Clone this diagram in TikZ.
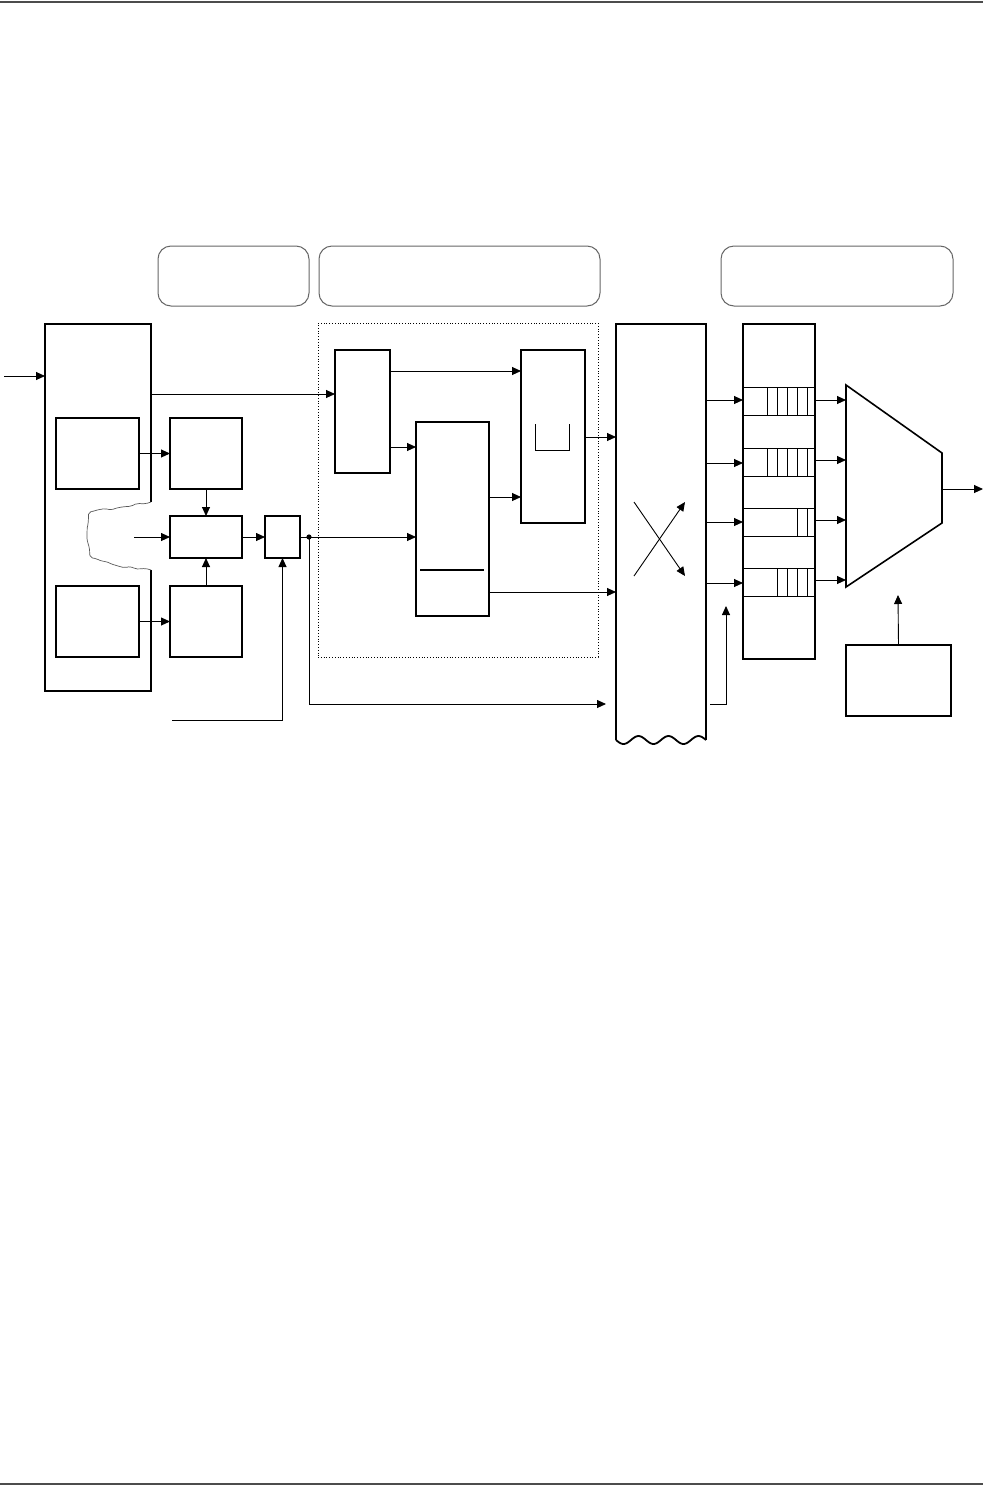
\documentclass[tikz,border=0pt]{standalone}
\usepackage{tikz}
\usepackage{xcolor}
\usetikzlibrary{arrows.meta,decorations.pathmorphing}

\tikzset{
  blk/.style={draw, line width=1.8pt, inner sep=0pt, outer sep=0pt},
  ghost/.style={inner sep=0pt, outer sep=0pt},
  tag/.style={draw=gray!80!black, line width=1pt, rounded corners=13pt, inner sep=0pt, outer sep=0pt},
  arr/.style={line width=0.9pt, -{Triangle[length=9pt,width=8pt]}},
  wire/.style={line width=0.9pt},
  slot/.style={line width=0.7pt}
}

\begin{document}
\begin{tikzpicture}[x=1pt,y=-1pt]

\useasboundingbox (0,0) rectangle (983,1486);

% Page rules
\draw[gray!60!black, line width=1.6pt] (0,2) -- (983,2);
\draw[gray!60!black, line width=1.6pt] (0,1484) -- (983,1484);

% Headers
\node[tag, minimum width=151pt, minimum height=60pt] (T1) at (233.5,276) {};
\node[tag, minimum width=281pt, minimum height=60pt] (T2) at (459.5,276) {};
\node[tag, minimum width=232pt, minimum height=60pt] (T3) at (837,276) {};

% Left frame with torn side
\node[ghost, minimum width=106pt, minimum height=367pt] (L) at (98,507.5) {};
\draw[line width=1.8pt] (151,502) -- (L.north east) -- (L.north west) -- (L.south west) -- (L.south east) -- (151,570);
\draw[gray!70!black, line width=0.7pt, rounded corners=2pt, decorate, decoration={random steps, segment length=5pt, amplitude=1.4pt}]
  (151,502) -- (122,507) -- (90,512) -- (87,535) -- (90,556) -- (118,566) -- (151,570);

% Left blocks
\node[blk, minimum width=83pt, minimum height=71pt] (A1) at (97.5,453.5) {};
\node[blk, minimum width=72pt, minimum height=71pt] (B1) at (206,453.5) {};
\node[blk, minimum width=72pt, minimum height=42pt] (C) at (206,537) {};
\node[blk, minimum width=83pt, minimum height=71pt] (A2) at (97.5,621.5) {};
\node[blk, minimum width=72pt, minimum height=71pt] (B2) at (206,621.5) {};
\node[blk, minimum width=35pt, minimum height=42pt] (D) at (282.5,537) {};

% Dotted group
\node[draw, dotted, line width=0.8pt, inner sep=0pt, minimum width=280pt, minimum height=334pt] (G) at (458,490) {};
\node[blk, minimum width=55pt, minimum height=123pt] (E1) at (362.5,411.5) {};
\node[blk, minimum width=73pt, minimum height=194pt] (E2) at (452.5,519) {};
\node[blk, minimum width=64pt, minimum height=173pt] (F) at (553,436.5) {};
\draw[line width=1.8pt] (420,570) -- (484,570);
\draw[line width=0.8pt] (535,424) -- (535,450) -- (569,450) -- (569,424);

% Switch with wavy bottom
\node[ghost, minimum width=90pt, minimum height=416pt] (X) at (661,532) {};
\draw[line width=1.8pt] (616,740) -- (X.north west) -- (X.north east) -- (706,740);
\draw[line width=1.8pt] plot[domain=0:90, samples=61] ({616+\x},{740+4*sin(12*\x)});
\coordinate (x1) at (634,502);
\coordinate (x2) at (685,576);
\coordinate (x3) at (634,576);
\coordinate (x4) at (685,502);
\draw[arr] (x1) -- (x2);
\draw[arr] (x3) -- (x4);

% Queues
\node[draw, line width=1.4pt, inner sep=0pt, outer sep=0pt, minimum width=72pt, minimum height=335pt] (Q) at (779,491.5) {};
\foreach \y/\xs in {387/{767,777,787,797,807}, 448/{767,777,787,797,807}, 508/{797,807}, 568/{777,787,797,807}}{
  \draw[slot] (743,\y) rectangle (815,\y+28);
  \foreach \x in \xs {
    \draw[slot] (\x,\y) -- (\x,\y+28);
  }
}

% Mux
\coordinate (M1) at (846,385);
\coordinate (M2) at (942,453);
\coordinate (M3) at (942,523);
\coordinate (M4) at (846,587);
\coordinate (Mo) at (942,489);
\draw[line width=1.6pt] (M1) -- (M2) -- (M3) -- (M4) -- cycle;

% Control
\node[blk, minimum width=105pt, minimum height=71pt] (K) at (898.5,680.5) {};

% Free ends
\coordinate (in0) at (4,376);
\coordinate (in1) at (134,537);
\coordinate (in2) at (172,720);
\coordinate (dot) at (309,537);
\coordinate (byp) at (606,704);
\coordinate (xo) at (710,704);
\coordinate (qin) at (726,606);
\coordinate (out) at (983,489);
\coordinate (sel) at (898,595);

% Connectors
\draw[arr] (in0) -- (L.west |- in0);
\draw[arr] (L.east |- 0,394) -- (E1.west |- 0,394);
\draw[arr] (A1) -- (B1);
\draw[arr] (A2) -- (B2);
\draw[arr] (B1) -- (C);
\draw[arr] (B2) -- (C);
\draw[arr] (in1) -- (C.west);
\draw[arr] (C) -- (D);
\draw[arr] (in2) -| (D.south);
\draw[wire] (D.east) -- (dot);
\fill (dot) circle (2.6pt);
\draw[arr] (dot) -- (E2.west |- dot);
\draw[arr] (dot) |- (byp);
\draw[arr] (E1.east |- 0,371) -- (F.west |- 0,371);
\draw[arr] (E1.east |- 0,447) -- (E2.west |- 0,447);
\draw[arr] (E2.east |- 0,497) -- (F.west |- 0,497);
\draw[arr] (F.east |- 0,437) -- (X.west |- 0,437);
\draw[arr] (E2.east |- 0,592) -- (X.west |- 0,592);
\foreach \y in {400,463,522,583}{
  \draw[arr] (X.east |- 0,\y) -- (Q.west |- 0,\y);
}
\draw[arr] (xo) -| (qin);
\foreach \y in {400,460,520,580}{
  \draw[arr] (Q.east |- 0,\y) -- (846,\y);
}
\draw[arr] (Mo) -- (out);
\draw[arr] (K.north) -- (sel);

\end{tikzpicture}
\end{document}
